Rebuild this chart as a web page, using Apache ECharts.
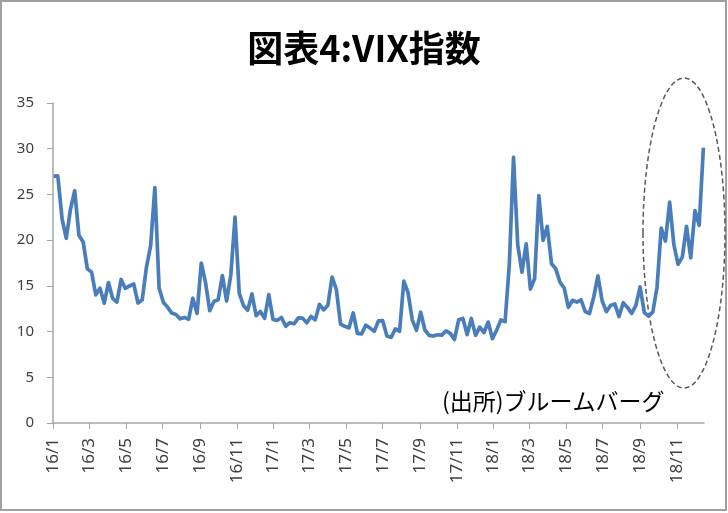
<!DOCTYPE html>
<html>
<head>
<meta charset="utf-8">
<script src="https://cdn.jsdelivr.net/npm/echarts@6/dist/echarts.min.js"></script>
<style>
html,body{margin:0;padding:0;background:#fff;}
#chart{width:728px;height:513px;}
</style>
</head>
<body>
<div id="chart"></div>
<script>
// Chart texts
const titleText = '図表4:VIX指数';
const sourceText = '(出所)ブルームバーグ';

// First weekly observation date and axis range
const firstWeek = '2016-01-02';
const axisStart = '2016-01-01';
const axisEnd = '2018-12-16';

// Weekly VIX values
const vix2016 = [27.01, 27.02, 22.34, 20.20, 23.38, 25.40, 20.53, 19.81, 16.86, 16.50, 14.02, 14.74, 13.10, 15.36, 13.62, 13.22, 15.70, 14.72, 14.99, 15.20, 13.12, 13.47, 17.03, 19.41, 25.76, 14.77, 13.20, 12.67, 12.02, 11.87, 11.39, 11.55, 11.34, 13.65, 11.98, 17.50, 15.37, 12.29, 13.29, 13.48, 16.12, 13.34, 16.19, 22.51, 14.17, 12.85, 12.34, 14.12, 11.75, 12.20, 11.44, 14.04];
const vix2017 = [11.32, 11.23, 11.54, 10.58, 10.97, 10.85, 11.49, 11.47, 10.96, 11.66, 11.28, 12.96, 12.37, 12.87, 15.96, 14.63, 10.82, 10.57, 10.40, 12.04, 9.81, 9.75, 10.70, 10.38, 10.02, 11.18, 11.19, 9.51, 9.36, 10.29, 10.03, 15.51, 14.26, 11.28, 10.13, 12.12, 10.17, 9.59, 9.51, 9.65, 9.61, 10.07, 9.80, 9.14, 11.29, 11.43, 9.67, 11.43, 9.58, 10.49, 9.90, 11.04];
const vix2018 = [9.22, 10.16, 11.27, 11.08, 17.31, 29.06, 19.46, 16.49, 19.59, 14.64, 15.80, 24.87, 19.97, 21.49, 17.41, 16.88, 15.41, 14.77, 12.65, 13.42, 13.22, 13.46, 12.18, 11.98, 13.77, 16.09, 13.37, 12.18, 12.86, 13.03, 11.64, 13.16, 12.64, 11.99, 12.86, 14.88, 12.07, 11.68, 12.12, 14.82, 21.31, 19.89, 24.16, 19.51, 17.36, 18.14, 21.52, 18.07, 23.23, 21.63, 30.11];

// Y axis ticks
const yMin = 0, yMax = 35, yStep = 5;

// ---- build daily category axis and weekly points ----
function fmt(d){
  const m = d.getUTCMonth()+1, day = d.getUTCDate();
  return d.getUTCFullYear()+'-'+(m<10?'0':'')+m+'-'+(day<10?'0':'')+day;
}
const days = [];
for (let t = Date.parse(axisStart+'T00:00:00Z'); t <= Date.parse(axisEnd+'T00:00:00Z'); t += 86400000) {
  days.push(fmt(new Date(t)));
}
const vixAll = vix2016.concat(vix2017, vix2018);
const points = [];
const t0 = Date.parse(firstWeek+'T00:00:00Z');
for (let i = 0; i < vixAll.length; i++) {
  points.push([fmt(new Date(t0 + i*7*86400000)), vixAll[i]]);
}
function isLabelDay(v){
  const p = v.split('-');
  return p[2] === '01' && (parseInt(p[1],10) % 2 === 1);
}
function labelOf(v){
  const p = v.split('-');
  return p[0].slice(2) + '/' + parseInt(p[1],10);
}

const chart = echarts.init(document.getElementById('chart'));
chart.setOption({
  animation: false,
  backgroundColor: '#ffffff',
  title: {
    text: titleText,
    left: 'center',
    top: 25,
    textStyle: {fontFamily: 'Noto Sans CJK JP', fontSize: 36, fontWeight: 'bold', color: '#000'}
  },
  grid: {left: 53, right: 24, top: 103, bottom: 90, containLabel: false},
  xAxis: {
    type: 'category',
    data: days,
    boundaryGap: false,
    axisLine: {show: true, lineStyle: {color: '#a6a6a6', width: 1.5}},
    axisTick: {show: true, length: 6, interval: (i, v) => isLabelDay(v), lineStyle: {color: '#a6a6a6'}},
    axisLabel: {
      interval: (i, v) => isLabelDay(v),
      rotate: 90,
      margin: 15,
      formatter: labelOf,
      fontFamily: 'Noto Sans',
      fontSize: 17,
      color: '#404040'
    },
    splitLine: {show: false}
  },
  yAxis: {
    type: 'value',
    min: yMin, max: yMax, interval: yStep,
    axisLine: {show: true, lineStyle: {color: '#a6a6a6', width: 1.5}},
    axisTick: {show: true, length: 6, lineStyle: {color: '#a6a6a6'}},
    axisLabel: {margin: 19, fontFamily: 'Noto Sans', fontSize: 15, color: '#404040'},
    splitLine: {show: false}
  },
  series: [{
    type: 'line',
    data: points,
    showSymbol: false,
    symbol: 'none',
    lineStyle: {color: '#4a7ebb', width: 3.7, join: 'round'},
    itemStyle: {color: '#4a7ebb'}
  }],
  graphic: [
    {type: 'rect', shape: {x: 1, y: 1, width: 725, height: 509}, style: {fill: 'none', stroke: '#a0a0a0', lineWidth: 2}, silent: true},
    {type: 'text', left: 442, top: 390, style: {text: sourceText, font: '23px "Noto Sans CJK JP"', fill: '#000'}, silent: true},
    {type: 'ellipse', shape: {cx: 684, cy: 233, rx: 41, ry: 155}, style: {fill: 'none', stroke: '#595959', lineWidth: 1.5, lineDash: [5, 3]}, silent: true}
  ]
});
</script>
</body>
</html>
